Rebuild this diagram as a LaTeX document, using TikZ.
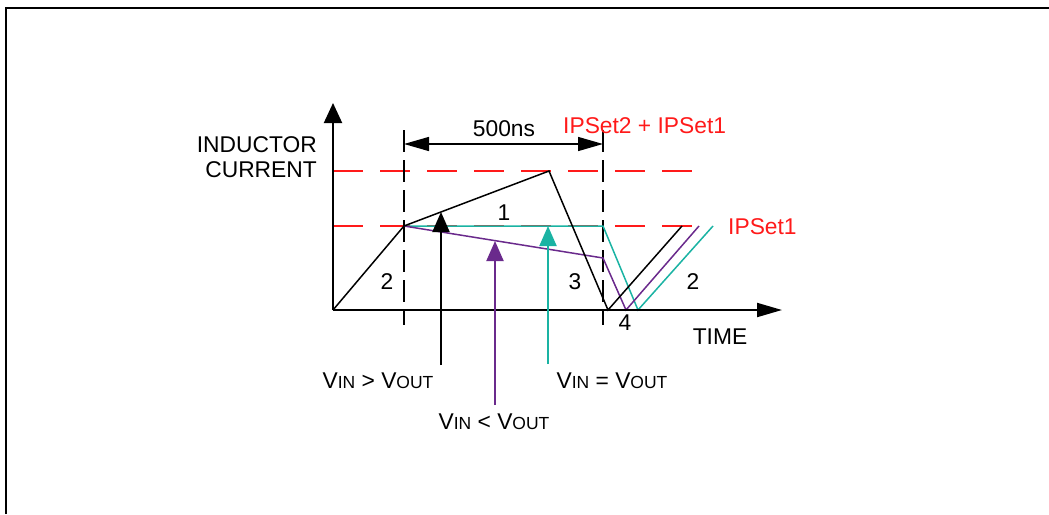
\documentclass[tikz,border=0pt]{standalone}
\usepackage{fontspec}
\setmainfont{Liberation Sans}
\usetikzlibrary{arrows.meta}
\definecolor{tealc}{HTML}{1AB3A3}
\definecolor{purpc}{HTML}{6A2A8C}
\definecolor{redc}{HTML}{FF1A1A}
\newcommand{\vlab}[3]{V{\fontsize{17.5}{20}\selectfont #1} #2 V{\fontsize{17.5}{20}\selectfont #3}}
\begin{document}
\begin{tikzpicture}[x=1pt,y=-1pt,
  lbl/.style={font=\fontsize{22.8}{26}\selectfont, inner sep=0pt},
  axis/.style={line width=2pt},
  wave/.style={line width=1.5pt},
  reddash/.style={redc, line width=1.5pt, dash pattern=on 30pt off 17pt},
  blkdash/.style={black, line width=1.8pt, dash pattern=on 22pt off 8pt},
  vtip/.style={-{Triangle[length=20pt,width=17pt]}}]
\useasboundingbox (0,0) rectangle (1049,514);
\draw[line width=2pt] (6,514) -- (6,8) -- (1049,8);

% named points
\coordinate (O) at (333,310);
\coordinate (Ytop) at (333,103);
\coordinate (Xend) at (782,310);
\coordinate (A) at (404,226);
\coordinate (Pk) at (549,171);
\coordinate (B1) at (608,310);
\coordinate (E1) at (682,226);
\coordinate (T1) at (603,226);
\coordinate (T2) at (638,310);
\coordinate (E2) at (713,226);
\coordinate (P1) at (603,258);
\coordinate (P2) at (626,310);
\coordinate (E3) at (699,226);

% red dashed limits
\coordinate (R1a) at (333,171); \coordinate (R1b) at (702,171);
\coordinate (R2a) at (333,226); \coordinate (R2b) at (702,226);
\draw[reddash] (R1a) -- (R1b);
\draw[reddash] (R2a) -- (R2b);

% black dashed verticals
\coordinate (D1a) at (404,130); \coordinate (D1b) at (404,325);
\coordinate (D2a) at (603,130); \coordinate (D2b) at (603,325);
\draw[blkdash] (D1a) -- (D1b);
\draw[blkdash] (D2a) -- (D2b);

% 500ns arrow
\coordinate (M1) at (404,144); \coordinate (M2) at (603,144);
\draw[line width=1.4pt, {Triangle[length=25pt,width=14pt]}-{Triangle[length=25pt,width=14pt]}] (M1) -- (M2);

% waveforms
\draw[wave, tealc] (A) -- (T1) -- (T2) -- (E2);
\draw[wave, purpc] (A) -- (P1) -- (P2) -- (E3);
\draw[wave, black] (O) -- (A) -- (Pk) -- (B1) -- (E1);

% axes
\draw[axis, -{Triangle[length=20pt,width=18pt]}] (O) -- (Ytop);
\draw[axis, -{Triangle[length=25pt,width=14pt]}] (O) -- (Xend);

% pointer arrows
\coordinate (a1s) at (441,365); \coordinate (a1e) at (441,212);
\coordinate (a2s) at (495,405); \coordinate (a2e) at (495,241);
\coordinate (a3s) at (548,364); \coordinate (a3e) at (548,226);
\draw[line width=2pt, black, vtip] (a1s) -- (a1e);
\draw[line width=2pt, purpc, vtip] (a2s) -- (a2e);
\draw[line width=2pt, tealc, vtip] (a3s) -- (a3e);

% labels
\node[lbl, anchor=east] (ind) at (317,145) {INDUCTOR};
\node[lbl, anchor=east] (cur) at (317,170) {CURRENT};
\node[lbl] (ns) at (504,129) {500ns};
\node[lbl, redc, anchor=west] (ips2) at (563,126) {IPSet2 + IPSet1};
\node[lbl, redc, anchor=west] (ips1) at (728,227) {IPSet1};
\node[lbl] (n1) at (504,213) {1};
\node[lbl] (n2a) at (387,282) {2};
\node[lbl] (n3) at (575,282) {3};
\node[lbl] (n2b) at (693,282) {2};
\node[lbl] (n4) at (625,323) {4};
\node[lbl] (time) at (720,337) {TIME};
\node[lbl] (vgt) at (378,381) {\vlab{IN}{>}{OUT}};
\node[lbl] (veq) at (612,381) {\vlab{IN}{=}{OUT}};
\node[lbl] (vlt) at (494,422) {\vlab{IN}{<}{OUT}};
\end{tikzpicture}
\end{document}
